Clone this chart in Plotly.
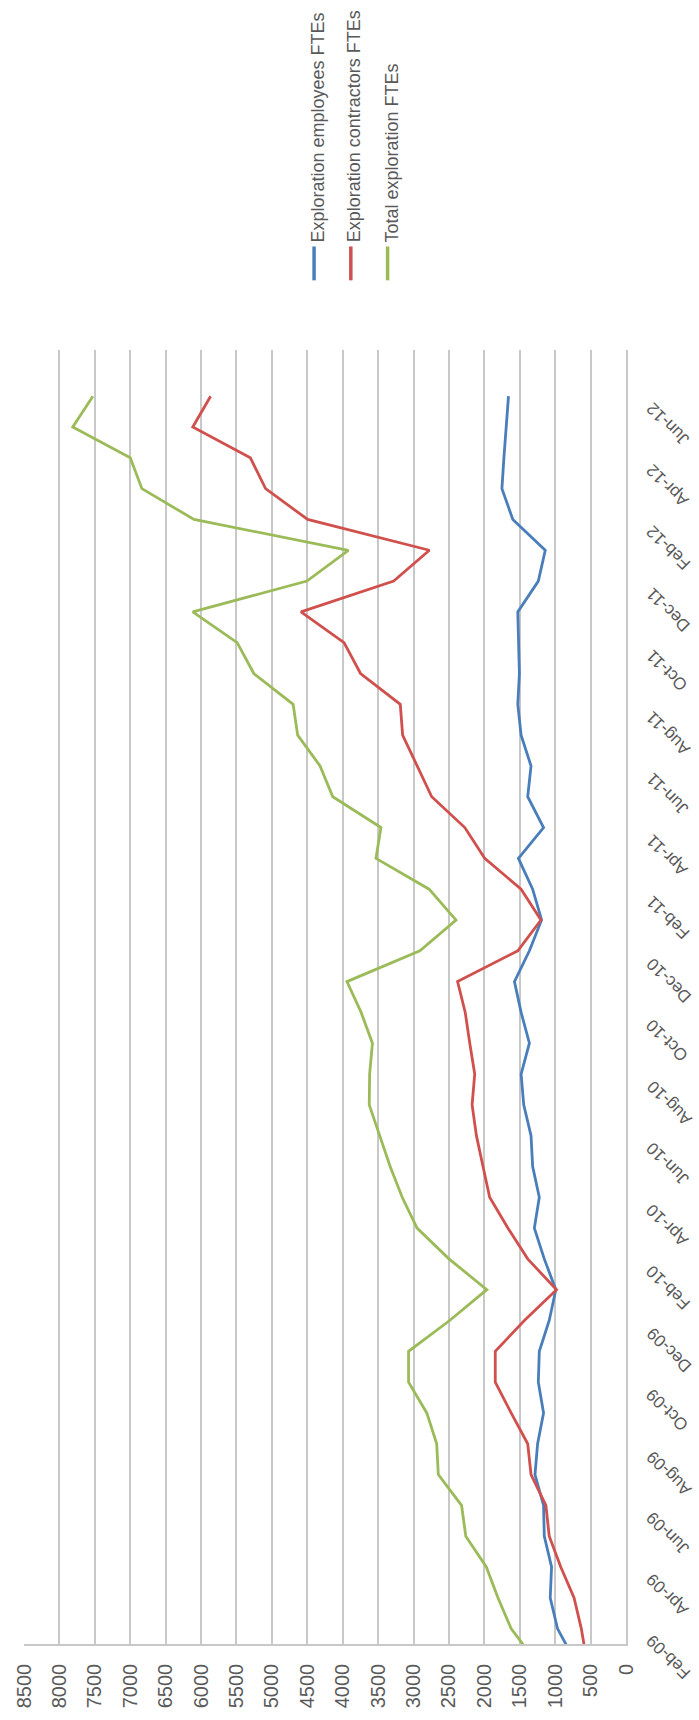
import pandas as pd
import plotly.graph_objects as go

# Categories: monthly, Jan-09 (partly clipped at the axis) to Jun-12
months = pd.date_range("2009-01-01", "2012-06-01", freq="MS").strftime("%b-%y").tolist()
tick_labels = months[1::2]  # Feb-09, Apr-09, ..., Jun-12

employees = [733, 967, 1070, 1051, 1154, 1164, 1285, 1248, 1164, 1238,
             1224, 1084, 991, 1154, 1294, 1224, 1318, 1341, 1444, 1481,
             1364, 1481, 1575, 1364, 1192, 1318, 1519, 1164, 1388, 1341,
             1481, 1528, 1505, 1519, 1528, 1238, 1140, 1598, 1752, 1724,
             1692, 1659]
contractors = [557, 631, 734, 921, 1084, 1131, 1341, 1388, 1622, 1846,
               1846, 1435, 981, 1388, 1668, 1925, 2019, 2112, 2173, 2136,
               2206, 2270, 2378, 1528, 1201, 1481, 1995, 2276, 2743, 2953,
               3154, 3187, 3748, 3981, 4589, 3280, 2776, 4495, 5089, 5304,
               6117, 5865]
total = [1294, 1622, 1808, 1972, 2262, 2322, 2650, 2673, 2813, 3070,
         3070, 2490, 1965, 2500, 2950, 3160, 3330, 3480, 3625, 3620,
         3580, 3740, 3940, 2910, 2400, 2780, 3530, 3460, 4140, 4320,
         4636, 4700, 5255, 5490, 6117, 4505, 3920, 6100, 6835, 7000,
         7812, 7527]

series_names = ["Exploration employees FTEs", "Exploration contractors FTEs", "Total exploration FTEs"]
series_values = [employees, contractors, total]
colors = ["#4A7EBB", "#D0504D", "#9BBB59"]

FONT = "Liberation Sans, Arial, sans-serif"
W, H = 699, 1720
ML, MR, MT, MB = 20, 73, 350, 70
PW = W - ML - MR
PH = H - MT - MB

def px_to_paper_x(px):
    return (px - ML) / PW

def px_to_paper_y(py):
    return (H - MB - py) / PH

fig = go.Figure()
for name, vals, col in zip(series_names, series_values, colors):
    fig.add_trace(go.Scatter(x=vals, y=months, mode="lines", name=name,
                             line=dict(color=col, width=2.8), showlegend=False))

# Category labels (rotated, like the reference)
for lab in tick_labels:
    fig.add_annotation(x=px_to_paper_x(640), xref="paper", y=lab, yref="y",
                       text=lab, textangle=-135, showarrow=False,
                       xanchor="left", yanchor="top",
                       font=dict(family=FONT, size=17, color="#595959"))

# Legend drawn as rotated text with short coloured strokes below
leg_x = [316, 353, 390]
for name, col, lx in zip(series_names, colors, leg_x):
    fig.add_annotation(x=px_to_paper_x(lx), xref="paper", y=px_to_paper_y(244), yref="paper",
                       text=name, textangle=-90, showarrow=False,
                       xanchor="center", yanchor="bottom",
                       font=dict(family=FONT, size=18, color="#595959"))
    fig.add_shape(type="line", xref="paper", yref="paper",
                  x0=px_to_paper_x(lx - 4), x1=px_to_paper_x(lx - 4),
                  y0=px_to_paper_y(246), y1=px_to_paper_y(280),
                  line=dict(color=col, width=3.5))

fig.update_layout(
    width=W, height=H,
    margin=dict(l=ML, r=MR, t=MT, b=MB),
    paper_bgcolor="white", plot_bgcolor="white",
    font=dict(family=FONT, color="#595959"),
    xaxis=dict(range=[8500, 0], dtick=500, tick0=0, showgrid=True,
               gridcolor="#C8C8C8", gridwidth=1.5,
               zeroline=True, zerolinecolor="#C8C8C8", zerolinewidth=1.5,
               showline=True, linecolor="#C8C8C8", linewidth=1.5,
               tickangle=-90, ticks="", ticklabelstandoff=10,
               tickfont=dict(family=FONT, size=20, color="#595959")),
    yaxis=dict(type="category", range=[0.5, 42.5], side="right",
               showgrid=False, zeroline=False, showticklabels=False,
               showline=True, linecolor="#C8C8C8", linewidth=1.5, ticks=""),
)

fig.write_html("out.html")
